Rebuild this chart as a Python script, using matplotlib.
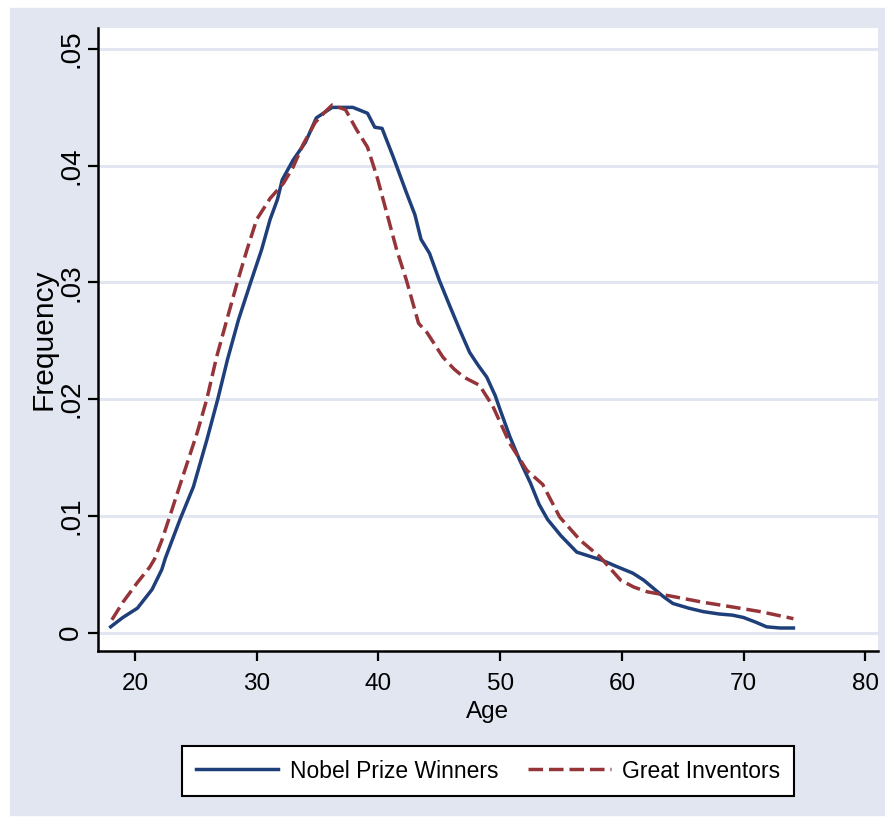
import matplotlib
matplotlib.use("Agg")
import matplotlib.pyplot as plt
from matplotlib.patches import Rectangle

# kernel density of age at great achievement
nobel_age = [18.0, 19.0, 20.2, 21.4, 22.2, 22.5, 23.7, 24.8, 25.9, 26.8, 27.6, 28.5,
             29.5, 30.4, 31.1, 31.7, 32.1, 33.0, 34.0, 34.9, 36.2, 37.9, 39.1, 39.7,
             40.3, 41.2, 42.3, 43.0, 43.5, 44.2, 45.0, 45.9, 46.7, 47.5, 48.2, 48.9,
             49.6, 50.0, 50.8, 51.6, 52.5, 53.2, 53.9, 55.0, 56.3, 57.2, 58.4, 59.5,
             60.9, 61.8, 62.6, 63.4, 64.2, 65.5, 66.7, 68.0, 69.1, 70.0, 71.0, 71.9,
             73.0, 74.1]
nobel_freq = [.0005, .0013, .0021, .0037, .0054, .0064, .0097, .0125, .0165, .0200, .0234, .0268,
              .0300, .0328, .0354, .0371, .0388, .0405, .0420, .0441, .0450, .0450, .0445, .0433,
              .0432, .0408, .0377, .0358, .0337, .0325, .0302, .0279, .0259, .0240, .0229, .0219,
              .0203, .0191, .0168, .0148, .0128, .0110, .0097, .0083, .0069, .0066, .0062, .0057,
              .0051, .0045, .0038, .0031, .0025, .0021, .0018, .0016, .0015, .0013, .0009, .0005,
              .0004, .0004]

inv_age = [18.1, 19.0, 20.2, 21.2, 21.6, 22.2, 22.9, 23.9, 25.1, 25.9, 26.7, 27.6,
           28.4, 29.2, 30.0, 31.1, 32.2, 33.0, 33.8, 34.8, 35.6, 36.2, 37.3, 38.2,
           39.1, 39.9, 40.7, 41.5, 42.3, 43.3, 44.0, 45.3, 46.2, 47.0, 48.3, 49.4,
           50.8, 52.2, 53.5, 54.9, 56.6, 58.2, 59.9, 61.0, 62.1, 64.2, 66.7, 69.1,
           71.4, 74.1]
inv_freq = [.0011, .0026, .0043, .0056, .0063, .0079, .0101, .0133, .0171, .0200, .0236, .0270,
            .0300, .0328, .0354, .0372, .0385, .0399, .0418, .0437, .0446, .0452, .0448, .0431,
            .0416, .0390, .0359, .0328, .0302, .0265, .0257, .0236, .0226, .0219, .0212, .0194,
            .0162, .0139, .0127, .0099, .0079, .0065, .0045, .0039, .0035, .0031, .0026, .0022,
            .0018, .0012]

xticks = [20, 30, 40, 50, 60, 70, 80]
yticks = [0, .01, .02, .03, .04, .05]
ylabels = ["0", ".01", ".02", ".03", ".04", ".05"]

plt.rcParams['font.family'] = ['Liberation Sans', 'DejaVu Sans']

bg = '#e1e6f0'
fig = plt.figure(figsize=(8.85, 8.23), dpi=100, facecolor='white')
fig.patches.append(Rectangle((10/885, 8/823), 1 - 10/885, 807/823,
                             transform=fig.transFigure, color=bg, zorder=-10))

W, H = 885, 823
ax = fig.add_axes([98/W, 1 - 651/H, (878 - 98)/W, (651 - 28)/H])
ax.set_facecolor('white')

for y in yticks:
    ax.axhline(y, color=bg, lw=2.2, zorder=1)

ax.plot(nobel_age, nobel_freq, color='#1f3f7a', lw=2.5, label='Nobel Prize Winners', zorder=3)
ax.plot(inv_age, inv_freq, color='#953439', lw=2.5, ls=(0, (4.2, 1.7)),
        label='Great Inventors', zorder=3)

ax.set_xlim(16.96, 81.05)
ax.set_ylim(-0.00157, 0.0518)
ax.set_xticks(xticks)
ax.set_yticks(yticks)
ax.set_yticklabels(ylabels, rotation=90, va='center')

for s in ['top', 'right']:
    ax.spines[s].set_visible(False)
for s in ['left', 'bottom']:
    ax.spines[s].set_linewidth(1.8)
ax.tick_params(length=7, width=1.6)
ax.tick_params(axis='x', labelsize=17.5, pad=9)
ax.tick_params(axis='y', labelsize=20, pad=3)

ax.set_xlabel('Age', fontsize=17.5, labelpad=4)
ax.set_ylabel('Frequency', fontsize=21.5, labelpad=0.5)

leg = fig.legend(loc='center', bbox_to_anchor=(488/W, 1 - 771/H), ncol=2,
                 fontsize=16.5, frameon=True, fancybox=False, edgecolor='black',
                 framealpha=1, facecolor='white',
                 handlelength=3.6, handletextpad=0.5, columnspacing=1.3,
                 borderpad=0.6)
leg.get_frame().set_linewidth(1.5)

fig.savefig('out.png', dpi=100, facecolor=fig.get_facecolor())
